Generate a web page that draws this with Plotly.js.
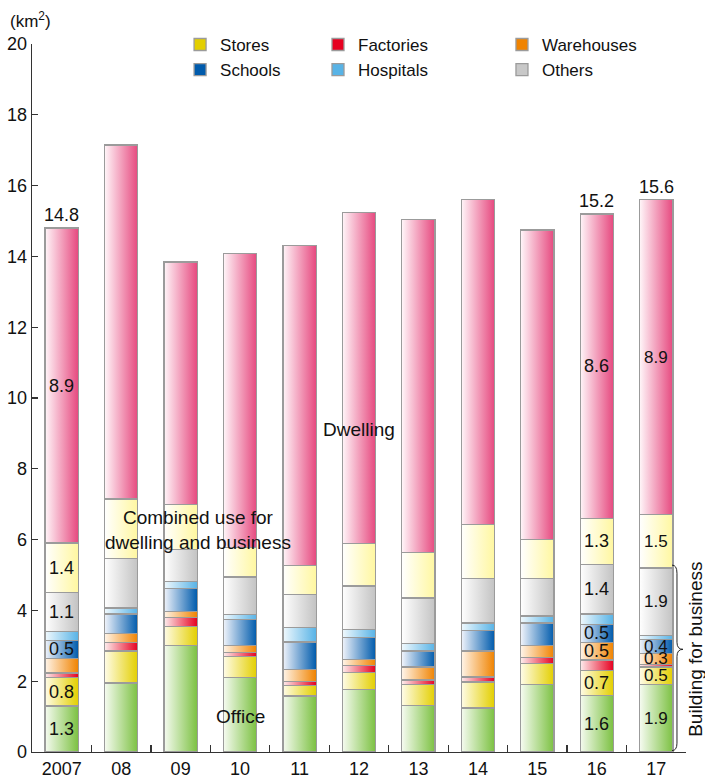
<!DOCTYPE html>
<html>
<head>
<meta charset="utf-8">
<script src="https://cdn.plot.ly/plotly-3.0.1.min.js"></script>
<style>
  html, body { margin: 0; padding: 0; background: #fff; }
  #chart { width: 705px; height: 778px; }
</style>
</head>
<body>
<div id="chart"></div>
<script>
// Floor area of new buildings by use (km²), 2007–2017
const years = ['2007', '08', '09', '10', '11', '12', '13', '14', '15', '16', '17'];

const office     = [1.3, 1.95, 3.0, 2.1, 1.58, 1.76, 1.32, 1.24, 1.91, 1.6, 1.9];
const stores     = [0.8, 0.9, 0.55, 0.6, 0.3, 0.48, 0.59, 0.74, 0.59, 0.7, 0.5];
const factories  = [0.13, 0.25, 0.24, 0.11, 0.12, 0.21, 0.12, 0.14, 0.17, 0.3, 0.08];
const warehouses = [0.42, 0.25, 0.18, 0.2, 0.33, 0.16, 0.37, 0.73, 0.34, 0.5, 0.3];
const schools    = [0.5, 0.55, 0.65, 0.74, 0.78, 0.62, 0.45, 0.59, 0.63, 0.5, 0.4];
const hospitals  = [0.25, 0.17, 0.19, 0.14, 0.4, 0.24, 0.21, 0.2, 0.2, 0.3, 0.12];
const others     = [1.1, 1.4, 0.91, 1.05, 0.94, 1.22, 1.29, 1.26, 1.06, 1.4, 1.9];
const combined   = [1.4, 1.68, 1.27, 0.84, 0.81, 1.2, 1.28, 1.52, 1.1, 1.3, 1.5];
const dwelling   = [8.9, 10.0, 6.85, 8.3, 9.04, 9.36, 9.42, 9.18, 8.75, 8.6, 8.9];

// Years whose segments / totals carry value labels
const fullLabelYears = ['2007', '16', '17'];
const partLabelYears = ['16', '17'];
const totalLabelYears = ['2007', '16', '17'];

const FONT = 'Liberation Sans, Arial, sans-serif';

// Stack order bottom → top. legend: which of the three legend columns shows the entry.
const series = [
  { name: 'Office',     values: office,     solid: '#7cc142', light: '#f6fbf1', legend: null,      labels: fullLabelYears },
  { name: 'Stores',     values: stores,     solid: '#e3cf00', light: '#fffce8', legend: 'legend',  labels: fullLabelYears },
  { name: 'Factories',  values: factories,  solid: '#e60020', light: '#fdeeee', legend: 'legend2', labels: [] },
  { name: 'Warehouses', values: warehouses, solid: '#f08300', light: '#fff5ea', legend: 'legend3', labels: partLabelYears },
  { name: 'Schools',    values: schools,    solid: '#005bac', light: '#f1f4fb', legend: 'legend',  labels: fullLabelYears },
  { name: 'Hospitals',  values: hospitals,  solid: '#58b3e6', light: '#f1f9fd', legend: 'legend2', labels: [] },
  { name: 'Others',     values: others,     solid: '#c3c3c3', light: '#ffffff', legend: 'legend3', labels: fullLabelYears },
  { name: 'Combined use for dwelling and business', values: combined, solid: '#fff7a0', light: '#ffffff', legend: null, labels: fullLabelYears },
  { name: 'Dwelling',   values: dwelling,   solid: '#e6497f', light: '#fff6f9', legend: null,      labels: fullLabelYears }
];

const traces = series.map(s => ({
  type: 'bar',
  name: s.name,
  x: years,
  y: s.values,
  marker: { color: s.name === 'Others' ? '#c8c8c8' : s.solid,
            line: { color: '#9b9b9b', width: 1.3 } },
  showlegend: s.legend !== null,
  legend: s.legend || 'legend',
  hoverinfo: 'skip'
}));

// Value labels at the middle of each labelled segment, and totals above the bars.
// Positions on the category axis are given as category indices.
const annotations = [];
const cum = years.map(() => 0);
series.forEach(s => {
  s.values.forEach((v, j) => {
    const mid = cum[j] + v / 2;
    cum[j] += v;
    if (s.labels.includes(years[j])) {
      annotations.push({
        x: j, y: mid, xref: 'x', yref: 'y',
        text: v.toFixed(1), showarrow: false,
        font: { family: FONT, size: years[j] === '17' ? 17 : 18, color: '#111' }
      });
    }
  });
});
years.forEach((yr, j) => {
  if (totalLabelYears.includes(yr)) {
    annotations.push({
      x: j, y: cum[j], xref: 'x', yref: 'y', yanchor: 'bottom', yshift: 1,
      text: cum[j].toFixed(1), showarrow: false,
      font: { family: FONT, size: 18, color: '#111' }
    });
  }
});

// Category labels written across the bars
const textFont = { family: FONT, size: 19, color: '#111' };
annotations.push(
  { x: 5, y: 9.1, xref: 'x', yref: 'y', text: 'Dwelling', showarrow: false, font: textFont },
  { x: 2.3, y: 6.27, xref: 'x', yref: 'y', text: 'Combined use for<br>dwelling and business',
    showarrow: false, font: textFont },
  { x: 3, y: 0.99, xref: 'x', yref: 'y', text: 'Office', showarrow: false, font: textFont },
  { x: 1.0145, y: 2.9, xref: 'paper', yref: 'y', xanchor: 'center', yanchor: 'middle',
    text: 'Building for business', textangle: -90,
    showarrow: false, font: { family: FONT, size: 19, color: '#111' } },
  { x: -0.037, y: 1.034, xref: 'paper', yref: 'paper', xanchor: 'left', yanchor: 'middle',
    text: '(km<sup>2</sup>)', showarrow: false, font: { family: FONT, size: 17, color: '#111' } }
);

// Brace grouping the business-use segments of the last bar
const bx0 = 0.9786, bx1 = 0.9862, bx2 = 0.9954;
const shapes = [{
  type: 'path', xref: 'paper', yref: 'y',
  path: `M ${bx0},5.28 Q ${bx1},5.28 ${bx1},5.05 L ${bx1},3.1 Q ${bx1},2.9 ${bx2},2.9 ` +
        `Q ${bx1},2.9 ${bx1},2.7 L ${bx1},0.25 Q ${bx1},0.04 ${bx0},0.04`,
  line: { color: '#222', width: 1 }
}];

const legendBase = {
  orientation: 'v', xanchor: 'left', yanchor: 'top', y: 1.0241,
  bgcolor: 'rgba(0,0,0,0)', borderwidth: 0, traceorder: 'normal',
  font: { family: FONT, size: 17, color: '#111' }
};

const layout = {
  width: 705, height: 778,
  margin: { l: 32, r: 19, t: 44, b: 26 },
  paper_bgcolor: '#fff', plot_bgcolor: '#fff',
  barmode: 'stack', bargap: 0.44,
  font: { family: FONT, size: 18, color: '#111' },
  xaxis: {
    type: 'category', range: [-0.5, 10.5], tickson: 'boundaries',
    ticks: 'inside', ticklen: 7, tickcolor: '#333', tickwidth: 1.2,
    showline: true, linecolor: '#333', linewidth: 1.3, showgrid: false,
    tickfont: { family: FONT, size: 18, color: '#111' }, fixedrange: true
  },
  yaxis: {
    range: [0, 20], dtick: 2, ticks: 'inside', ticklen: 6, tickcolor: '#333', tickwidth: 1.2,
    showline: true, linecolor: '#333', linewidth: 1.3, showgrid: false, zeroline: false,
    tickfont: { family: FONT, size: 18, color: '#111' }, fixedrange: true
  },
  legend:  Object.assign({}, legendBase, { x: 0.2264 }),
  legend2: Object.assign({}, legendBase, { x: 0.4373 }),
  legend3: Object.assign({}, legendBase, { x: 0.7186 }),
  annotations: annotations,
  shapes: shapes,
  showlegend: true
};

// Horizontal white-to-colour shading on every bar segment
function shadeBars(gd) {
  const svg = gd.querySelector('svg.main-svg');
  if (!svg) return;
  const NS = 'http://www.w3.org/2000/svg';
  let defs = svg.querySelector('defs.bar-shading');
  if (!defs) {
    defs = document.createElementNS(NS, 'defs');
    defs.setAttribute('class', 'bar-shading');
    series.forEach((s, i) => {
      const g = document.createElementNS(NS, 'linearGradient');
      g.setAttribute('id', 'shade-' + i);
      g.setAttribute('x1', '0'); g.setAttribute('y1', '0');
      g.setAttribute('x2', '1'); g.setAttribute('y2', '0');
      [[0, s.light], [1, s.solid]].forEach(([o, c]) => {
        const st = document.createElementNS(NS, 'stop');
        st.setAttribute('offset', o);
        st.setAttribute('stop-color', c);
        g.appendChild(st);
      });
      defs.appendChild(g);
    });
    svg.insertBefore(defs, svg.firstChild);
  }
  gd.querySelectorAll('.barlayer .trace').forEach(tr => {
    const cd = tr.__data__;
    const idx = cd && cd[0] && cd[0].trace ? cd[0].trace.index : null;
    if (idx === null) return;
    tr.querySelectorAll('path').forEach(p => { p.style.fill = 'url(#shade-' + idx + ')'; });
  });
}

const gd = document.getElementById('chart');
Plotly.newPlot(gd, traces, layout, { displayModeBar: false, staticPlot: true }).then(() => {
  shadeBars(gd);
  gd.on('plotly_afterplot', () => shadeBars(gd));
});
</script>
</body>
</html>
